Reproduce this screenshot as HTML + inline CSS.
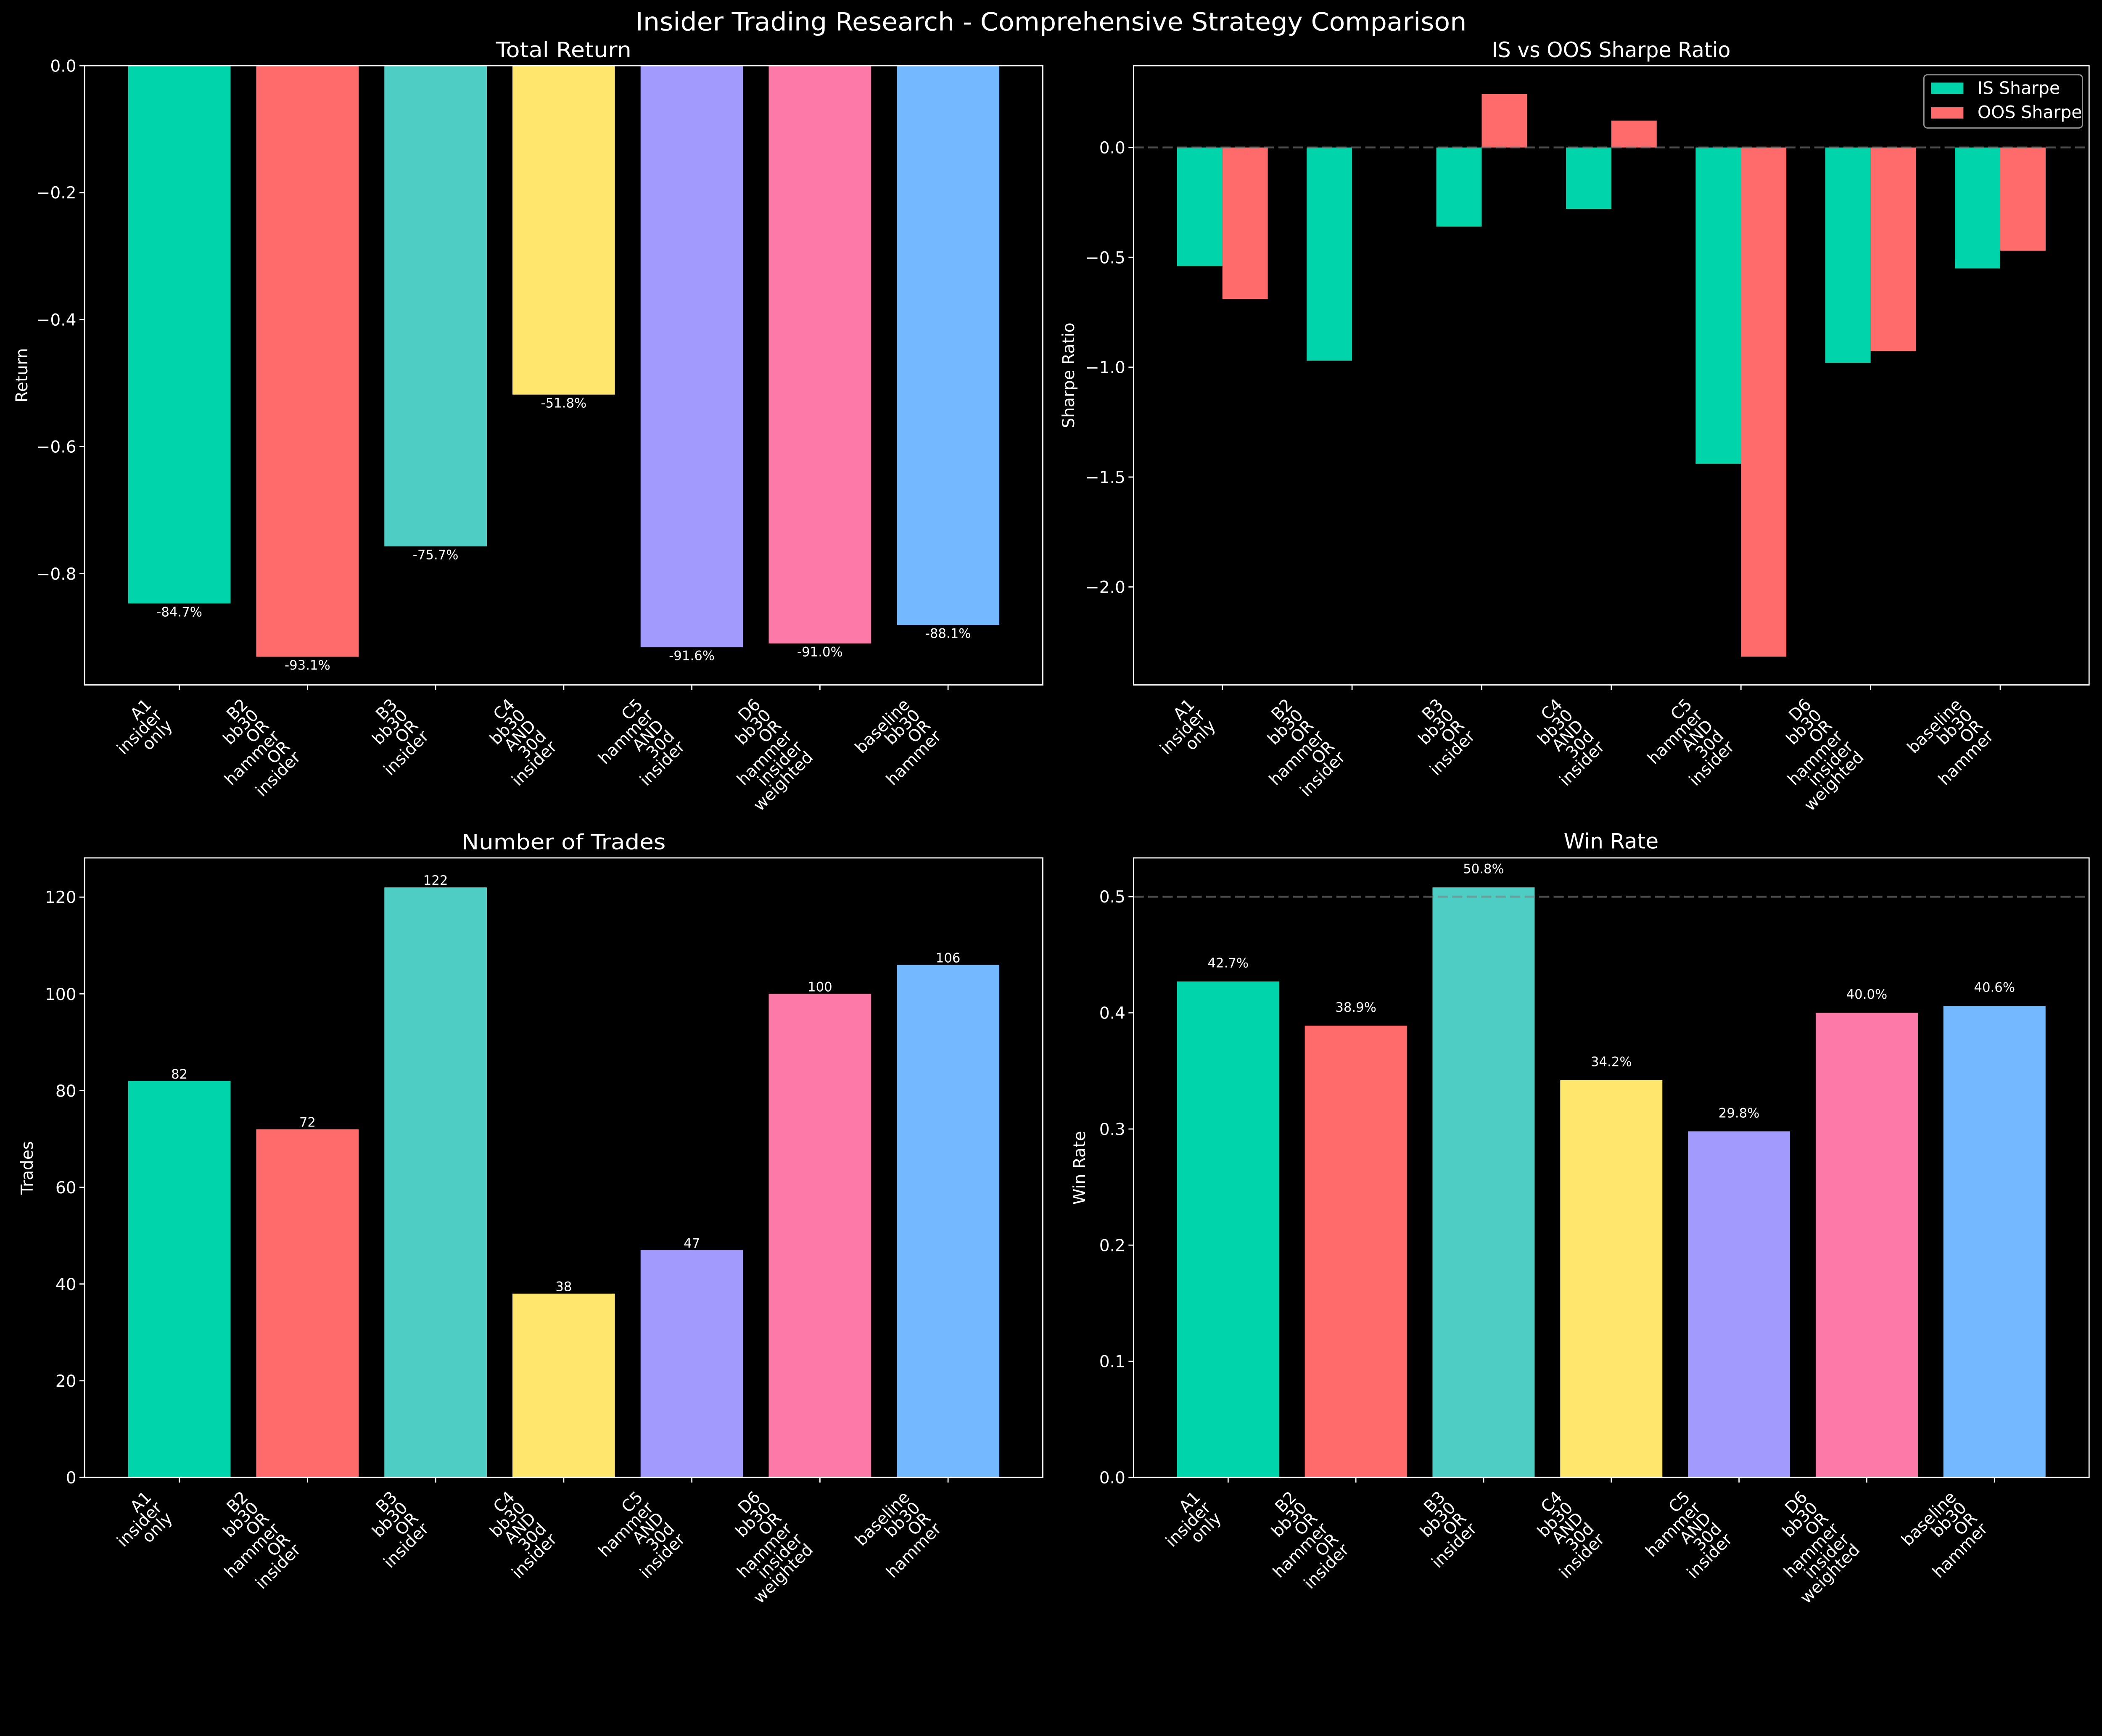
<!DOCTYPE html>
<html><head><meta charset="utf-8"><style>html,body{margin:0;padding:0;background:#000;overflow:hidden;width:100vw;height:76.9088vw}svg{display:block;position:absolute;left:0;top:0;width:100vw;height:76.9088vw}</style></head>
<body>
<svg xmlns="http://www.w3.org/2000/svg" viewBox="0 0 5370 4130" preserveAspectRatio="none" font-family="'DejaVu Sans','Liberation Sans',sans-serif" fill="#fff">
<rect width="5370" height="4130" fill="#000"/>
<text x="2685" y="78" font-size="64" text-anchor="middle" textLength="2123" lengthAdjust="spacingAndGlyphs">Insider Trading Research - Comprehensive Strategy Comparison</text>

<!-- ===== TL: Total Return ===== -->
<text x="1440" y="146" font-size="54" text-anchor="middle" textLength="346" lengthAdjust="spacingAndGlyphs">Total Return</text>
<g>
<rect x="327.3" y="168" width="261.8" height="1373.8" fill="#00D4AA"/>
<rect x="654.6" y="168" width="261.8" height="1510.1" fill="#FF6B6B"/>
<rect x="981.9" y="168" width="261.8" height="1227.9" fill="#4ECDC4"/>
<rect x="1309.2" y="168" width="261.8" height="840.2" fill="#FFE66D"/>
<rect x="1636.5" y="168" width="261.8" height="1485.8" fill="#A29BFE"/>
<rect x="1963.8" y="168" width="261.8" height="1476" fill="#FD79A8"/>
<rect x="2291.1" y="168" width="261.8" height="1429" fill="#74B9FF"/>
</g>
<g font-size="33" text-anchor="middle">
<text x="458.2" y="1575">-84.7%</text>
<text x="785.5" y="1711">-93.1%</text>
<text x="1112.8" y="1429">-75.7%</text>
<text x="1440.1" y="1041">-51.8%</text>
<text x="1767.4" y="1687">-91.6%</text>
<text x="2094.7" y="1677">-91.0%</text>
<text x="2422" y="1630">-88.1%</text>
</g>
<rect x="216" y="168" width="2448" height="1582" fill="none" stroke="#fff" stroke-width="3"/>
<g stroke="#fff" stroke-width="3">
<line x1="216" y1="168" x2="203" y2="168"/><line x1="216" y1="492.4" x2="203" y2="492.4"/><line x1="216" y1="816.8" x2="203" y2="816.8"/><line x1="216" y1="1141.2" x2="203" y2="1141.2"/><line x1="216" y1="1465.6" x2="203" y2="1465.6"/>
<line x1="458.2" y1="1750" x2="458.2" y2="1763"/><line x1="785.5" y1="1750" x2="785.5" y2="1763"/><line x1="1112.8" y1="1750" x2="1112.8" y2="1763"/><line x1="1440.1" y1="1750" x2="1440.1" y2="1763"/><line x1="1767.4" y1="1750" x2="1767.4" y2="1763"/><line x1="2094.7" y1="1750" x2="2094.7" y2="1763"/><line x1="2422" y1="1750" x2="2422" y2="1763"/>
</g>
<g font-size="42" text-anchor="end">
<text x="195" y="183">0.0</text><text x="195" y="507">−0.2</text><text x="195" y="832">−0.4</text><text x="195" y="1156">−0.6</text><text x="195" y="1481">−0.8</text>
</g>
<text transform="translate(70,959) rotate(-90)" font-size="42" text-anchor="middle">Return</text>
<g font-size="42" text-anchor="end">
<g transform="translate(389.4,1803) rotate(-45)"><text y="0">A1</text><text y="38">insider</text><text y="76">only</text></g>
<g transform="translate(636,1803) rotate(-45)"><text y="0">B2</text><text y="38">bb30</text><text y="76">OR</text><text y="114">hammer</text><text y="152">OR</text><text y="190">insider</text></g>
<g transform="translate(1017.1,1803) rotate(-45)"><text y="0">B3</text><text y="38">bb30</text><text y="76">OR</text><text y="114">insider</text></g>
<g transform="translate(1317.5,1803) rotate(-45)"><text y="0">C4</text><text y="38">bb30</text><text y="76">AND</text><text y="114">30d</text><text y="152">insider</text></g>
<g transform="translate(1644.8,1803) rotate(-45)"><text y="0">C5</text><text y="38">hammer</text><text y="76">AND</text><text y="114">30d</text><text y="152">insider</text></g>
<g transform="translate(1945.2,1803) rotate(-45)"><text y="0">D6</text><text y="38">bb30</text><text y="76">OR</text><text y="114">hammer</text><text y="152">insider</text><text y="190">weighted</text></g>
<g transform="translate(2326.3,1803) rotate(-45)"><text y="0">baseline</text><text y="38">bb30</text><text y="76">OR</text><text y="114">hammer</text></g>
</g>

<!-- ===== TR: Sharpe ===== -->
<text x="4116" y="146" font-size="54" text-anchor="middle" textLength="610" lengthAdjust="spacingAndGlyphs">IS vs OOS Sharpe Ratio</text>
<g fill="#00D4AA">
<rect x="3007" y="376.8" width="115.9" height="303"/>
<rect x="3338.2" y="376.8" width="115.9" height="544.6"/>
<rect x="3669.4" y="376.8" width="115.9" height="202"/>
<rect x="4000.6" y="376.8" width="115.9" height="157"/>
<rect x="4331.8" y="376.8" width="115.9" height="808"/>
<rect x="4663" y="376.8" width="115.9" height="550"/>
<rect x="4994.2" y="376.8" width="115.9" height="309"/>
</g>
<g fill="#FF6B6B">
<rect x="3122.9" y="376.8" width="115.9" height="387"/>
<rect x="3785.3" y="240" width="115.9" height="136.8"/>
<rect x="4116.5" y="308" width="115.9" height="68.8"/>
<rect x="4447.7" y="376.8" width="115.9" height="1301"/>
<rect x="4778.9" y="376.8" width="115.9" height="520"/>
<rect x="5110.1" y="376.8" width="115.9" height="264"/>
</g>
<line x1="2896" y1="376.8" x2="5337" y2="376.8" stroke="#808080" stroke-opacity="0.6" stroke-width="5" stroke-dasharray="26 11"/>
<rect x="2896" y="168" width="2441" height="1582" fill="none" stroke="#fff" stroke-width="3"/>
<g stroke="#fff" stroke-width="3">
<line x1="2896" y1="376.8" x2="2883" y2="376.8"/><line x1="2896" y1="657.5" x2="2883" y2="657.5"/><line x1="2896" y1="938.2" x2="2883" y2="938.2"/><line x1="2896" y1="1218.9" x2="2883" y2="1218.9"/><line x1="2896" y1="1499.6" x2="2883" y2="1499.6"/>
<line x1="3122.9" y1="1750" x2="3122.9" y2="1763"/><line x1="3454.1" y1="1750" x2="3454.1" y2="1763"/><line x1="3785.3" y1="1750" x2="3785.3" y2="1763"/><line x1="4116.5" y1="1750" x2="4116.5" y2="1763"/><line x1="4447.7" y1="1750" x2="4447.7" y2="1763"/><line x1="4778.9" y1="1750" x2="4778.9" y2="1763"/><line x1="5110.1" y1="1750" x2="5110.1" y2="1763"/>
</g>
<g font-size="42" text-anchor="end">
<text x="2875" y="392">0.0</text><text x="2875" y="673">−0.5</text><text x="2875" y="953">−1.0</text><text x="2875" y="1234">−1.5</text><text x="2875" y="1515">−2.0</text>
</g>
<text transform="translate(2744,959) rotate(-90)" font-size="42" text-anchor="middle">Sharpe Ratio</text>
<rect x="4915" y="191" width="405" height="136" rx="9" fill="#000" stroke="#999" stroke-width="3"/>
<rect x="4933" y="211" width="83" height="29" fill="#00D4AA"/>
<rect x="4933" y="274" width="83" height="29" fill="#FF6B6B"/>
<text x="5052" y="240" font-size="44">IS Sharpe</text>
<text x="5052" y="302" font-size="44">OOS Sharpe</text>
<g font-size="42" text-anchor="end">
<g transform="translate(3054.1,1803) rotate(-45)"><text y="0">A1</text><text y="38">insider</text><text y="76">only</text></g>
<g transform="translate(3304.6,1803) rotate(-45)"><text y="0">B2</text><text y="38">bb30</text><text y="76">OR</text><text y="114">hammer</text><text y="152">OR</text><text y="190">insider</text></g>
<g transform="translate(3689.6,1803) rotate(-45)"><text y="0">B3</text><text y="38">bb30</text><text y="76">OR</text><text y="114">insider</text></g>
<g transform="translate(3993.9,1803) rotate(-45)"><text y="0">C4</text><text y="38">bb30</text><text y="76">AND</text><text y="114">30d</text><text y="152">insider</text></g>
<g transform="translate(4325.1,1803) rotate(-45)"><text y="0">C5</text><text y="38">hammer</text><text y="76">AND</text><text y="114">30d</text><text y="152">insider</text></g>
<g transform="translate(4629.4,1803) rotate(-45)"><text y="0">D6</text><text y="38">bb30</text><text y="76">OR</text><text y="114">hammer</text><text y="152">insider</text><text y="190">weighted</text></g>
<g transform="translate(5014.4,1803) rotate(-45)"><text y="0">baseline</text><text y="38">bb30</text><text y="76">OR</text><text y="114">hammer</text></g>
</g>

<!-- ===== BL: Trades ===== -->
<text x="1440" y="2170" font-size="54" text-anchor="middle" textLength="521" lengthAdjust="spacingAndGlyphs">Number of Trades</text>
<rect x="327.3" y="2761.7" width="261.8" height="1013.3" fill="#00D4AA"/>
<rect x="654.6" y="2885.3" width="261.8" height="889.7" fill="#FF6B6B"/>
<rect x="981.9" y="2267.4" width="261.8" height="1507.6" fill="#4ECDC4"/>
<rect x="1309.2" y="3305.4" width="261.8" height="469.6" fill="#FFE66D"/>
<rect x="1636.5" y="3194.2" width="261.8" height="580.8" fill="#A29BFE"/>
<rect x="1963.8" y="2539.3" width="261.8" height="1235.7" fill="#FD79A8"/>
<rect x="2291.1" y="2465.2" width="261.8" height="1309.8" fill="#74B9FF"/>
<g font-size="33" text-anchor="middle">
<text x="458.2" y="2756">82</text><text x="785.5" y="2879">72</text><text x="1112.8" y="2261">122</text><text x="1440.1" y="3299">38</text><text x="1767.4" y="3188">47</text><text x="2094.7" y="2533">100</text><text x="2422" y="2459">106</text>
</g>
<rect x="216" y="2192" width="2448" height="1583" fill="none" stroke="#fff" stroke-width="3"/>
<g stroke="#fff" stroke-width="3">
<line x1="216" y1="3775" x2="203" y2="3775"/><line x1="216" y1="3527.9" x2="203" y2="3527.9"/><line x1="216" y1="3280.7" x2="203" y2="3280.7"/><line x1="216" y1="3033.6" x2="203" y2="3033.6"/><line x1="216" y1="2786.4" x2="203" y2="2786.4"/><line x1="216" y1="2539.3" x2="203" y2="2539.3"/><line x1="216" y1="2292.2" x2="203" y2="2292.2"/>
<line x1="458.2" y1="3775" x2="458.2" y2="3788"/><line x1="785.5" y1="3775" x2="785.5" y2="3788"/><line x1="1112.8" y1="3775" x2="1112.8" y2="3788"/><line x1="1440.1" y1="3775" x2="1440.1" y2="3788"/><line x1="1767.4" y1="3775" x2="1767.4" y2="3788"/><line x1="2094.7" y1="3775" x2="2094.7" y2="3788"/><line x1="2422" y1="3775" x2="2422" y2="3788"/>
</g>
<g font-size="42" text-anchor="end">
<text x="195" y="3790">0</text><text x="195" y="3543">20</text><text x="195" y="3296">40</text><text x="195" y="3049">60</text><text x="195" y="2802">80</text><text x="195" y="2555">100</text><text x="195" y="2307">120</text>
</g>
<text transform="translate(84,2984) rotate(-90)" font-size="42" text-anchor="middle">Trades</text>
<g font-size="42" text-anchor="end">
<g transform="translate(389.4,3828) rotate(-45)"><text y="0">A1</text><text y="38">insider</text><text y="76">only</text></g>
<g transform="translate(636,3828) rotate(-45)"><text y="0">B2</text><text y="38">bb30</text><text y="76">OR</text><text y="114">hammer</text><text y="152">OR</text><text y="190">insider</text></g>
<g transform="translate(1017.1,3828) rotate(-45)"><text y="0">B3</text><text y="38">bb30</text><text y="76">OR</text><text y="114">insider</text></g>
<g transform="translate(1317.5,3828) rotate(-45)"><text y="0">C4</text><text y="38">bb30</text><text y="76">AND</text><text y="114">30d</text><text y="152">insider</text></g>
<g transform="translate(1644.8,3828) rotate(-45)"><text y="0">C5</text><text y="38">hammer</text><text y="76">AND</text><text y="114">30d</text><text y="152">insider</text></g>
<g transform="translate(1945.2,3828) rotate(-45)"><text y="0">D6</text><text y="38">bb30</text><text y="76">OR</text><text y="114">hammer</text><text y="152">insider</text><text y="190">weighted</text></g>
<g transform="translate(2326.3,3828) rotate(-45)"><text y="0">baseline</text><text y="38">bb30</text><text y="76">OR</text><text y="114">hammer</text></g>
</g>

<!-- ===== BR: Win Rate ===== -->
<text x="4116" y="2168" font-size="54" text-anchor="middle">Win Rate</text>
<rect x="3007" y="2507.7" width="261" height="1267.3" fill="#00D4AA"/>
<rect x="3333.3" y="2620.5" width="261" height="1154.5" fill="#FF6B6B"/>
<rect x="3659.6" y="2267.4" width="261" height="1507.6" fill="#4ECDC4"/>
<rect x="3985.9" y="2760" width="261" height="1015" fill="#FFE66D"/>
<rect x="4312.2" y="2890.6" width="261" height="884.4" fill="#A29BFE"/>
<rect x="4638.5" y="2587.9" width="261" height="1187.1" fill="#FD79A8"/>
<rect x="4964.8" y="2570" width="261" height="1205" fill="#74B9FF"/>
<line x1="2896" y1="2291.1" x2="5337" y2="2291.1" stroke="#808080" stroke-opacity="0.6" stroke-width="5" stroke-dasharray="26 11"/>
<g font-size="33" text-anchor="middle">
<text x="3137.5" y="2472">42.7%</text><text x="3463.8" y="2585">38.9%</text><text x="3790.1" y="2231">50.8%</text><text x="4116.4" y="2724">34.2%</text><text x="4442.7" y="2855">29.8%</text><text x="4769" y="2552">40.0%</text><text x="5095.3" y="2534">40.6%</text>
</g>
<rect x="2896" y="2192" width="2441" height="1583" fill="none" stroke="#fff" stroke-width="3"/>
<g stroke="#fff" stroke-width="3">
<line x1="2896" y1="3775" x2="2883" y2="3775"/><line x1="2896" y1="3478.2" x2="2883" y2="3478.2"/><line x1="2896" y1="3181.4" x2="2883" y2="3181.4"/><line x1="2896" y1="2884.7" x2="2883" y2="2884.7"/><line x1="2896" y1="2587.9" x2="2883" y2="2587.9"/><line x1="2896" y1="2291.1" x2="2883" y2="2291.1"/>
<line x1="3137.5" y1="3775" x2="3137.5" y2="3788"/><line x1="3463.8" y1="3775" x2="3463.8" y2="3788"/><line x1="3790.1" y1="3775" x2="3790.1" y2="3788"/><line x1="4116.4" y1="3775" x2="4116.4" y2="3788"/><line x1="4442.7" y1="3775" x2="4442.7" y2="3788"/><line x1="4769" y1="3775" x2="4769" y2="3788"/><line x1="5095.3" y1="3775" x2="5095.3" y2="3788"/>
</g>
<g font-size="42" text-anchor="end">
<text x="2875" y="3790">0.0</text><text x="2875" y="3493">0.1</text><text x="2875" y="3197">0.2</text><text x="2875" y="2900">0.3</text><text x="2875" y="2603">0.4</text><text x="2875" y="2306">0.5</text>
</g>
<text transform="translate(2772,2984) rotate(-90)" font-size="42" text-anchor="middle">Win Rate</text>
<g font-size="42" text-anchor="end">
<g transform="translate(3068.7,3828) rotate(-45)"><text y="0">A1</text><text y="38">insider</text><text y="76">only</text></g>
<g transform="translate(3314.3,3828) rotate(-45)"><text y="0">B2</text><text y="38">bb30</text><text y="76">OR</text><text y="114">hammer</text><text y="152">OR</text><text y="190">insider</text></g>
<g transform="translate(3694.4,3828) rotate(-45)"><text y="0">B3</text><text y="38">bb30</text><text y="76">OR</text><text y="114">insider</text></g>
<g transform="translate(3993.8,3828) rotate(-45)"><text y="0">C4</text><text y="38">bb30</text><text y="76">AND</text><text y="114">30d</text><text y="152">insider</text></g>
<g transform="translate(4320.1,3828) rotate(-45)"><text y="0">C5</text><text y="38">hammer</text><text y="76">AND</text><text y="114">30d</text><text y="152">insider</text></g>
<g transform="translate(4619.5,3828) rotate(-45)"><text y="0">D6</text><text y="38">bb30</text><text y="76">OR</text><text y="114">hammer</text><text y="152">insider</text><text y="190">weighted</text></g>
<g transform="translate(4999.6,3828) rotate(-45)"><text y="0">baseline</text><text y="38">bb30</text><text y="76">OR</text><text y="114">hammer</text></g>
</g>
</svg>
</body></html>
